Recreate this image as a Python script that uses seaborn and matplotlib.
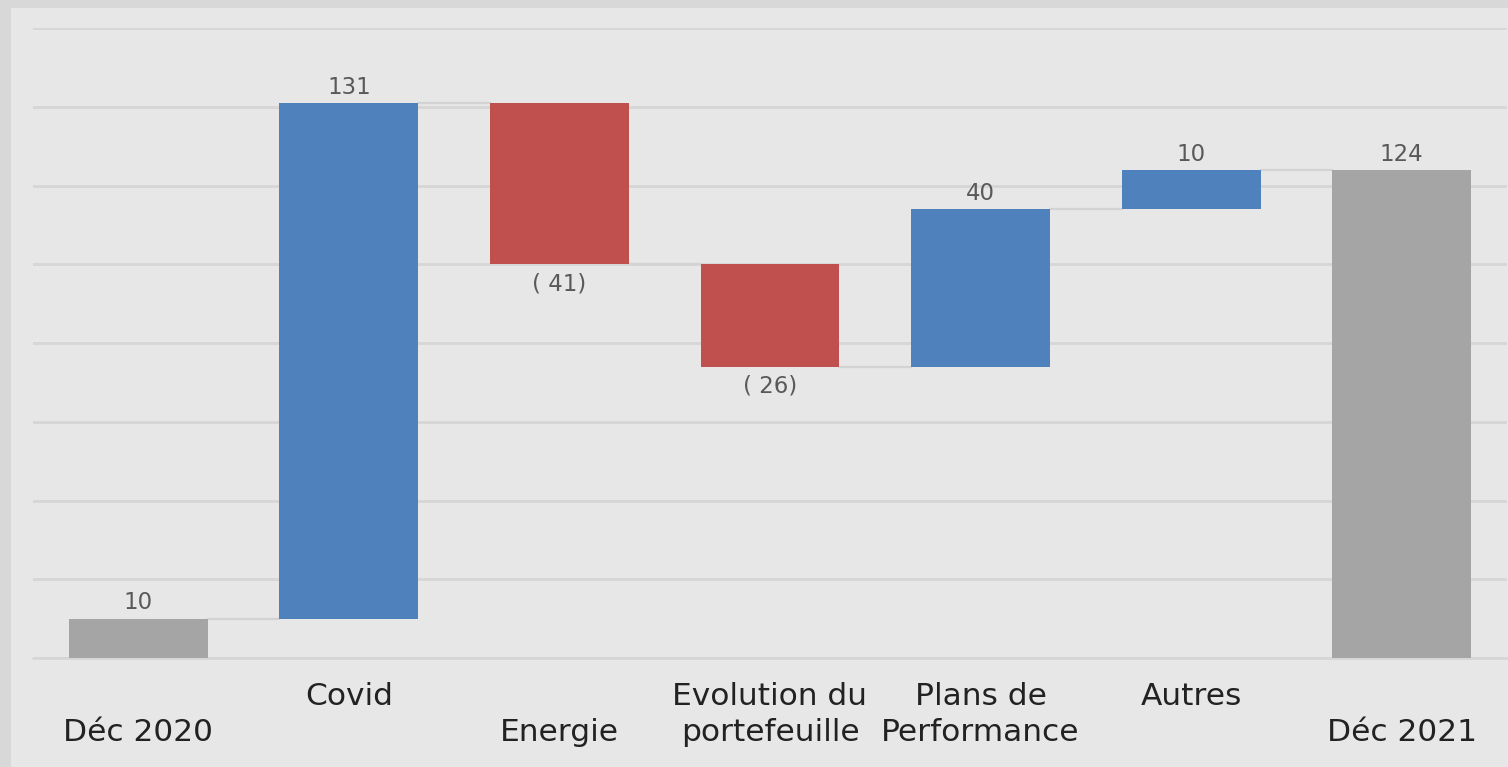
import matplotlib
matplotlib.use("Agg")
import matplotlib.pyplot as plt
from matplotlib.patches import Rectangle
import seaborn as sns
import pandas as pd
import numpy as np

# waterfall data
categories = ["Déc 2020", "Covid", "Energie", "Evolution du\nportefeuille",
              "Plans de\nPerformance", "Autres", "Déc 2021"]
deltas = [10, 131, -41, -26, 40, 10, 124]
is_total = [True, False, False, False, False, False, True]
value_labels = ["10", "131", "( 41)", "( 26)", "40", "10", "124"]
# staggered tick labels as in the original (low/high rows)
tick_labels = ["\nDéc 2020", "Covid", "\nEnergie", "Evolution du\nportefeuille",
               "Plans de\nPerformance", "Autres", "\nDéc 2021"]

BLUE, RED, GREY = "#4f81bd", "#c0504d", "#a5a5a5"
BG = "#e7e7e7"

# compute bases
bottoms, tops = [], []
running = 0
for d, tot in zip(deltas, is_total):
    if tot:
        b, t = 0, d
        running = d
    else:
        start = running
        running = running + d
        b, t = min(start, running), max(start, running)
    bottoms.append(b)
    tops.append(t)

colors = [GREY if tot else (BLUE if d > 0 else RED) for d, tot in zip(deltas, is_total)]
df = pd.DataFrame({"cat": categories, "height": [t - b for b, t in zip(bottoms, tops)]})

sns.set_style("white")
fig = plt.figure(figsize=(15.08, 7.67), dpi=100, facecolor="#d8d8d8")
# panel with soft shadow on top/left
fig.patches.append(Rectangle((11 / 1508, 0), 1, 1 - 8 / 767, transform=fig.transFigure,
                             facecolor=BG, edgecolor="none", zorder=-5))
ax = fig.add_axes([33 / 1508, 1 - 658 / 767, 1474 / 1508, 630 / 767])
ax.set_zorder(2)
ax.set_facecolor(BG)

sns.barplot(data=df, x="cat", y="height", hue="cat", palette=colors, width=0.66,
            legend=False, saturation=1, ax=ax, zorder=3)
for p, b in zip(ax.patches, bottoms):
    p.set_y(b)
    p.set_edgecolor("none")

# connectors
for i in range(len(categories) - 1):
    level = tops[i] if (is_total[i] or deltas[i] > 0) else bottoms[i]
    ax.plot([i + 0.33, i + 0.67], [level, level], color="#d3d3d3", lw=1.6, zorder=2)

# value labels
for i, (lab, d) in enumerate(zip(value_labels, deltas)):
    if d >= 0:
        ax.annotate(lab, (i, tops[i]), xytext=(0, 3), textcoords="offset points",
                    ha="center", va="bottom", fontsize=16.5, color="#595959")
    else:
        ax.annotate(lab, (i, bottoms[i]), xytext=(0, -6), textcoords="offset points",
                    ha="center", va="top", fontsize=16.5, color="#595959")

ax.set_xlim(-0.5, 6.5)
ax.set_ylim(0, 160)
ax.set_yticks(np.arange(0, 161, 20))
ax.set_yticklabels([])
ax.grid(axis="y", color="#d6d6d6", lw=2, zorder=0)
ax.axhline(0, color="#d6d6d6", lw=2, zorder=1, clip_on=False)
ax.set_axisbelow(True)
ax.set_xticks(range(len(categories)))
ax.set_xticklabels(tick_labels, fontsize=22.5, color="#222222", linespacing=1.3)
ax.tick_params(axis="x", length=0, pad=17)
ax.tick_params(axis="y", length=0)
ax.set_xlabel("")
ax.set_ylabel("")
for s in ax.spines.values():
    s.set_visible(False)

fig.savefig("out.png", dpi=100, facecolor=fig.get_facecolor())
